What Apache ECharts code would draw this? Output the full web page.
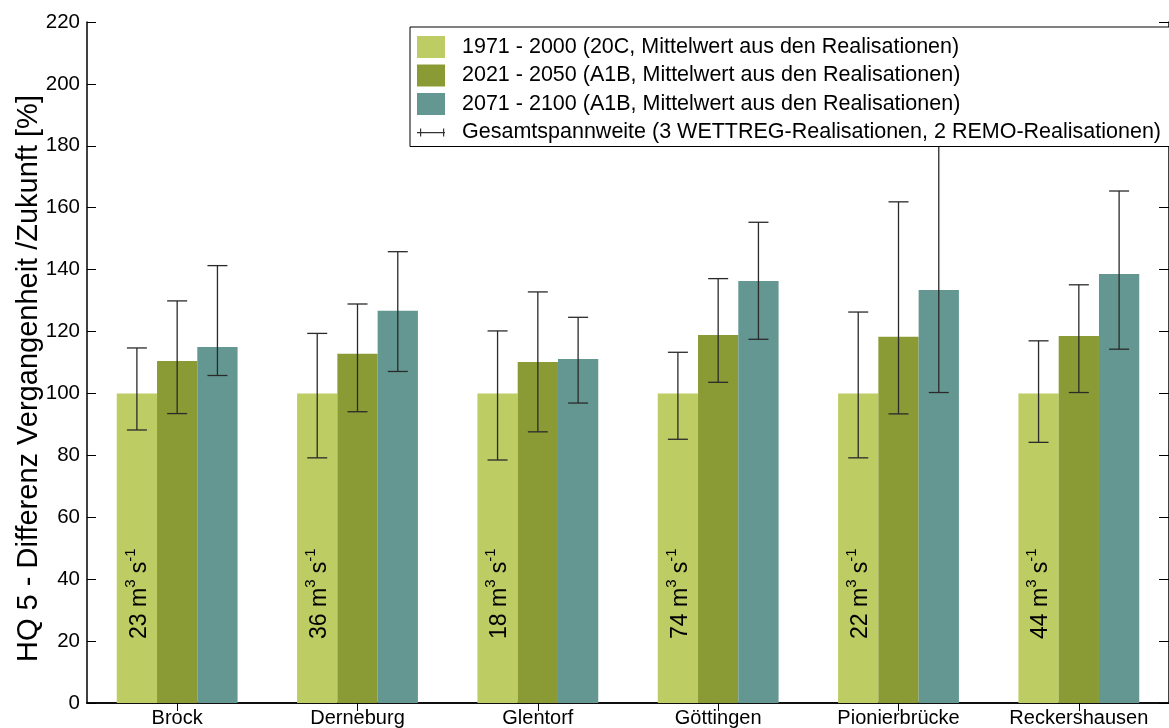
<!DOCTYPE html>
<html>
<head>
<meta charset="utf-8">
<script src="https://cdn.jsdelivr.net/npm/echarts@6/dist/echarts.min.js"></script>
<style>html,body{margin:0;padding:0;background:#fff;}#c{width:1169px;height:728px;}</style>
</head>
<body>
<div id="c"></div>
<script>
const categories = ['Brock','Derneburg','Glentorf','Göttingen','Pionierbrücke','Reckershausen'];
const seriesNames = [
  '1971 - 2000 (20C, Mittelwert aus den Realisationen)',
  '2021 - 2050 (A1B, Mittelwert aus den Realisationen)',
  '2071 - 2100 (A1B, Mittelwert aus den Realisationen)'
];
const rangeName = 'Gesamtspannweite (3 WETTREG-Realisationen, 2 REMO-Realisationen)';
const v1971 = [100, 100, 100, 100, 100, 100];
const v2021 = [110.5, 112.8, 110.2, 118.9, 118.3, 118.6];
const v2071 = [115.0, 126.7, 111.1, 136.3, 133.4, 138.6];
const low1971 = [88.2, 79.2, 78.5, 85.2, 79.2, 84.2];
const high1971 = [114.7, 119.4, 120.2, 113.3, 126.3, 117.0];
const low2021 = [93.5, 94.1, 87.6, 103.6, 93.4, 100.3];
const high2021 = [129.9, 128.9, 132.8, 137.1, 161.9, 135.1];
const low2071 = [105.8, 107.1, 96.9, 117.5, 100.3, 114.3];
const high2071 = [141.3, 145.8, 124.6, 155.3, 195.0, 165.4];
const flowLabels = ['23', '36', '18', '74', '22', '44'];
const yTicks = [0, 20, 40, 60, 80, 100, 120, 140, 160, 180, 200, 220];

const colors = ['#bdcc63', '#8a9b35', '#649791'];
const FONT = 'Liberation Sans, Arial, sans-serif';
const GAP = 0.33;

const errData = [];
[[low1971, high1971], [low2021, high2021], [low2071, high2071]].forEach((pair, s) => {
  categories.forEach((c, i) => errData.push([i, pair[0][i], pair[1][i], s]));
});

const chart = echarts.init(document.getElementById('c'), null, {renderer: 'canvas'});
chart.setOption({
  animation: false,
  textStyle: {fontFamily: FONT, color: '#000'},
  grid: {left: 87, top: 22, width: 1090, height: 681, containLabel: false},
  legend: {
    orient: 'vertical', left: 410, top: 27,
    backgroundColor: '#fff', borderColor: '#000', borderWidth: 1,
    padding: [9, 80, 3, 7], itemGap: 6.5, itemWidth: 28, itemHeight: 22,
    textStyle: {fontFamily: FONT, fontSize: 21.5, color: '#000', padding: [0, 0, 0, 12]},
    data: [
      {name: seriesNames[0], icon: 'rect'},
      {name: seriesNames[1], icon: 'rect'},
      {name: seriesNames[2], icon: 'rect'},
      {name: rangeName, icon: 'path://M0,0h0.01v0.01h-0.01z M27.99,21.99h0.01v0.01h-0.01z M0,10.5h28v1.2H0z M3,7h1.2v8H3z M26,7h1.2v8H26z', itemStyle: {color: '#333'}}
    ],
    z: 10
  },
  xAxis: [
    {
      type: 'category', data: categories, position: 'bottom',
      axisLine: {lineStyle: {color: '#000', width: 1.5}},
      axisTick: {inside: true, alignWithLabel: true, length: 8, lineStyle: {color: '#000'}},
      axisLabel: {fontFamily: FONT, fontSize: 20, color: '#000', margin: 5, interval: 0}
    },
    {
      type: 'category', data: categories, position: 'top',
      axisLine: {lineStyle: {color: '#000', width: 1.5}},
      axisTick: {show: true, inside: true, alignWithLabel: true, interval: 0, length: 8, lineStyle: {color: '#000'}},
      axisLabel: {show: false, interval: 0}
    }
  ],
  yAxis: [
    {
      type: 'value', min: 0, max: 220, interval: 20, position: 'left',
      name: 'HQ 5 - Differenz Vergangenheit /Zukunft [%]',
      nameLocation: 'middle', nameGap: 44, nameMoveOverlap: false,
      nameTextStyle: {fontFamily: FONT, fontSize: 29, color: '#000', padding: [0, 32, 0, 0]},
      axisLine: {show: true, lineStyle: {color: '#000', width: 1.5}},
      axisTick: {show: true, inside: true, length: 9, lineStyle: {color: '#000'}},
      axisLabel: {fontFamily: FONT, fontSize: 20.5, color: '#000', margin: 7,
        formatter: v => yTicks.includes(v) ? String(v) : ''},
      splitLine: {show: false}
    },
    {
      type: 'value', min: 0, max: 220, interval: 20, position: 'right',
      axisLine: {show: true, lineStyle: {color: '#000', width: 1.5}},
      axisTick: {show: true, inside: true, length: 10, lineStyle: {color: '#000'}},
      axisLabel: {show: false},
      splitLine: {show: false}
    }
  ],
  series: [
    {
      name: seriesNames[0], type: 'bar', data: v1971, barGap: '0%', barCategoryGap: '33%',
      itemStyle: {color: colors[0]},
      label: {
        show: true, position: 'insideBottom', distance: 58, rotate: 90,
        align: 'left', verticalAlign: 'middle', offset: [6, 0],
        formatter: p => '{n|' + flowLabels[p.dataIndex] + ' m}{s|3}{n| s}{s|-1}',
        rich: {
          n: {fontFamily: FONT, fontSize: 23, color: '#000', lineHeight: 28, verticalAlign: 'bottom'},
          s: {fontFamily: FONT, fontSize: 15, color: '#000', lineHeight: 28, verticalAlign: 'top'}
        }
      },
      z: 2
    },
    {name: seriesNames[1], type: 'bar', data: v2021, itemStyle: {color: colors[1]}, z: 2},
    {name: seriesNames[2], type: 'bar', data: v2071, itemStyle: {color: colors[2]}, z: 2},
    {
      name: rangeName, type: 'custom', data: errData, z: 5,
      itemStyle: {color: '#333'},
      encode: {x: 0, y: [1, 2]},
      renderItem: (params, api) => {
        const cat = api.value(0), lo = api.value(1), hi = api.value(2), s = api.value(3);
        const band = api.size([1, 0])[0];
        const bw = band * (1 - GAP) / 3;
        const cx = api.coord([cat, lo])[0] + (s - 1) * bw;
        const yl = api.coord([cat, lo])[1];
        const yh = api.coord([cat, hi])[1];
        const cap = 10;
        const st = {stroke: '#2a2a2a', lineWidth: 1.3};
        return {
          type: 'group',
          children: [
            {type: 'line', shape: {x1: cx, y1: yl, x2: cx, y2: yh}, style: st},
            {type: 'line', shape: {x1: cx - cap, y1: yh, x2: cx + cap, y2: yh}, style: st},
            {type: 'line', shape: {x1: cx - cap, y1: yl, x2: cx + cap, y2: yl}, style: st}
          ]
        };
      }
    }
  ]
});
</script>
</body>
</html>
